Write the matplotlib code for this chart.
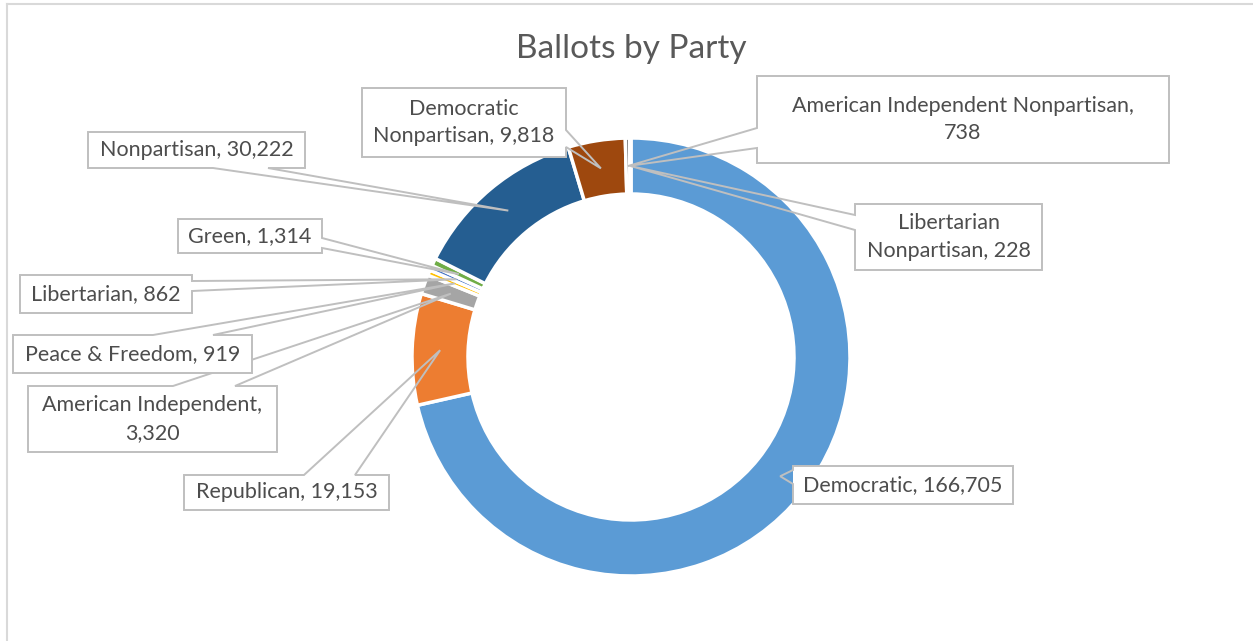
import matplotlib
matplotlib.use("Agg")
import matplotlib.pyplot as plt
from matplotlib.patches import Polygon, Rectangle
from matplotlib.lines import Line2D
import numpy as np

# data
parties = ["Democratic", "Republican", "American Independent", "Peace & Freedom",
           "Libertarian", "Green", "Nonpartisan", "Democratic Nonpartisan",
           "American Independent Nonpartisan", "Libertarian Nonpartisan"]
ballots = [166705, 19153, 3320, 919, 862, 1314, 30222, 9818, 738, 228]
label_text = ["Democratic, 166,705", "Republican, 19,153", "American Independent,\n3,320",
              "Peace & Freedom, 919", "Libertarian, 862", "Green, 1,314",
              "Nonpartisan, 30,222", "Democratic\nNonpartisan, 9,818",
              "American Independent Nonpartisan,\n738", "Libertarian\nNonpartisan, 228"]
colors = ["#5B9BD5", "#ED7D31", "#A5A5A5", "#FFC000", "#4472C4", "#70AD47",
          "#255E91", "#9E480E", "#636363", "#997300"]

# callout boxes in pixels (left, top, right, bottom), side of pointer base, base span
boxes = [
    ((793, 466, 1013, 504), "left", (470, 484)),
    ((184, 475, 389, 510), "top", (304, 355)),
    ((28, 386, 277, 452), "top", (173, 235)),
    ((13, 335, 252, 373), "top", (153, 213)),
    ((20, 275, 192, 313), "right", (281, 291)),
    ((178, 219, 322, 253), "right", (238, 248)),
    ((88, 132, 305, 168), "bottom", (213, 268)),
    ((362, 88, 566, 157), "right", (130, 147)),
    ((757, 76, 1169, 163), "left", (128, 148)),
    ((855, 204, 1042, 270), "left", (215, 230)),
]

W, H = 1253, 641
FONT = "Lato"
fig = plt.figure(figsize=(W / 100, H / 100), dpi=100)
ax = fig.add_axes([0, 0, 1, 1])

cx, cy, R, ring = 631, H - 357, 219, 56
wedges, _ = ax.pie(ballots, colors=colors, startangle=90, counterclock=False,
                   center=(cx, cy), radius=R, frame=True,
                   wedgeprops=dict(width=ring, edgecolor="white", linewidth=2.5))
ax.set_xlim(0, W)
ax.set_ylim(0, H)
ax.set_aspect("equal")
ax.axis("off")

rmid = R - ring / 2
for i, w in enumerate(wedges):
    ang = np.deg2rad((w.theta1 + w.theta2) / 2)
    tip = (cx + rmid * np.cos(ang), cy + rmid * np.sin(ang))
    (l, t, r, b), side, (p0, p1) = boxes[i]
    t, b = H - t, H - b
    if side == "top":
        pts = [(l, t), (p0, t), tip, (p1, t), (r, t), (r, b), (l, b)]
    elif side == "bottom":
        pts = [(l, t), (r, t), (r, b), (p1, b), tip, (p0, b), (l, b)]
    elif side == "right":
        pts = [(l, t), (r, t), (r, H - p0), tip, (r, H - p1), (r, b), (l, b)]
    else:
        pts = [(l, t), (r, t), (r, b), (l, b), (l, H - p1), tip, (l, H - p0)]
    z = 3 + i
    ax.add_patch(Rectangle((l, b), r - l, t - b, facecolor="white", edgecolor="none", zorder=z))
    ax.add_patch(Polygon(pts, closed=True, fill=False, edgecolor="#BFBFBF", linewidth=1.4,
                         joinstyle="miter", zorder=z))
    ax.text((l + r) / 2, (t + b) / 2, label_text[i], ha="center", va="center",
            fontsize=15.5, color="#4D4D4D", family=FONT, linespacing=1.45, zorder=z)

fig.text(631 / W, 1 - 49 / H, "Ballots by Party", ha="center", va="center",
         fontsize=24, color="#595959", family=FONT)

# chart area border (only top and left visible)
fig.add_artist(Line2D([7 / W, 7 / W], [0, 1 - 4 / H], color="#D9D9D9", lw=1.5))
fig.add_artist(Line2D([7 / W, 1], [1 - 4 / H, 1 - 4 / H], color="#D9D9D9", lw=1.5))

fig.savefig("out.png", dpi=100)
